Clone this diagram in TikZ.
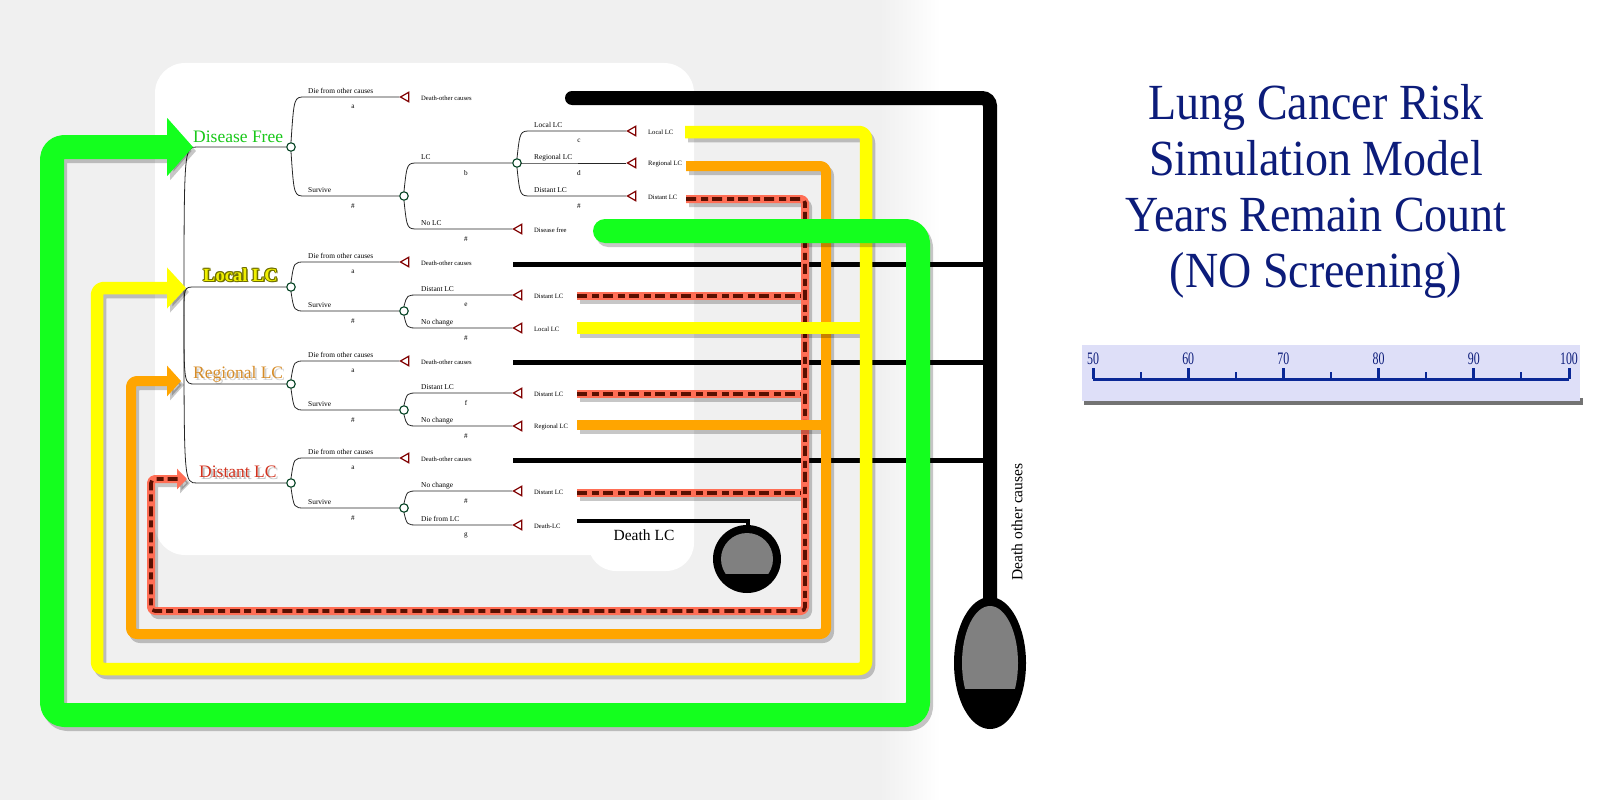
\documentclass[tikz,border=0pt]{standalone}
\usepackage{fontspec}
\setmainfont{Liberation Serif}
\usetikzlibrary{shapes.geometric,arrows.meta}
\definecolor{bggray}{RGB}{240,240,240}
\definecolor{lgreen}{RGB}{20,255,30}
\definecolor{lyellow}{RGB}{255,255,0}
\definecolor{lorange}{RGB}{255,165,0}
\definecolor{salmon}{RGB}{255,110,85}
\definecolor{rdark}{RGB}{90,15,0}
\definecolor{navy}{RGB}{12,28,122}
\definecolor{axisblue}{RGB}{10,40,150}
\definecolor{termred}{RGB}{128,0,0}
\definecolor{nodegreen}{RGB}{0,64,32}
\definecolor{dftext}{RGB}{25,200,25}
\definecolor{regtext}{RGB}{214,140,40}
\definecolor{disttext}{RGB}{210,50,30}
\definecolor{loctext}{RGB}{240,240,0}
\definecolor{locline}{RGB}{110,110,0}
\definecolor{scalebg}{RGB}{222,223,248}
\definecolor{dgray}{RGB}{128,128,128}

\newcommand{\tbranch}[7]{%
  \draw[branch] (#2) .. controls (#3+3,#4) .. (#3+14,#4) -- (#5);
  \node[blabel] (#1l) at (#3+17,#4-4) {#6};
  \node[plabel] (#1p) at (#3+62,#4+10) {#7};
}

\begin{document}
\begin{tikzpicture}[x=1pt,y=-1pt,
  chance/.style={circle, draw=nodegreen, fill=white, line width=1.1pt, minimum size=8.5pt, inner sep=0pt},
  term/.style={regular polygon, regular polygon sides=3, shape border rotate=90, draw=termred, fill=white, line width=1.2pt, minimum size=11pt, inner sep=0pt},
  branch/.style={draw=black!85, line width=0.8pt},
  blabel/.style={anchor=base west, inner sep=0pt, font=\fontsize{7.4}{8}\selectfont},
  plabel/.style={inner sep=0pt, font=\fontsize{7.2}{8}\selectfont},
  tlabel/.style={anchor=west, inner sep=0pt, font=\fontsize{6.6}{8}\selectfont},
  statelab/.style={anchor=base west, inner sep=0pt, font=\fontsize{17.5}{20}\selectfont},
  loclab/.style={anchor=base west, inner sep=0pt, font=\bfseries\fontsize{18.5}{20}\selectfont},
  shadowed/.style={draw=black, opacity=0.22, transform canvas={shift={(3pt,-4pt)}}},
  greenline/.style={draw=lgreen, line width=24pt, rounded corners=12pt, line join=round},
  yellowline/.style={draw=lyellow, line width=12.5pt, rounded corners=7pt, line join=round},
  orangeline/.style={draw=lorange, line width=10pt, rounded corners=6pt, line join=round},
  redline/.style={draw=salmon, line width=8pt, rounded corners=4pt, line join=round},
  redpat/.style={draw=rdark, line width=3.6pt, rounded corners=4pt, dash pattern=on 10pt off 5pt on 7pt off 4pt},
  blackthick/.style={draw=black, line width=14pt, rounded corners=8pt},
  blackthin/.style={draw=black, line width=5pt},
  axis/.style={draw=axisblue, line width=3pt},
  title/.style={anchor=base, inner sep=0pt, text=navy, font=\fontsize{46}{50}\selectfont},
  scalelab/.style={anchor=base, inner sep=0pt, text=navy, font=\fontsize{17.5}{18}\selectfont}
]
\useasboundingbox (0,0) rectangle (1600,800);
% background
\fill[white] (0,0) rectangle (1600,800);
\fill[bggray] (0,0) rectangle (881,800);
\shade[left color=bggray, right color=white] (880,0) rectangle (940,800);
% white panel
\fill[white, rounded corners=30pt] (155,63) rectangle (694,555);
\fill[white, rounded corners=28pt] (588,470) rectangle (694,571);

% ---------- decision tree ----------
\coordinate (root) at (184,315);
\node[chance] (df) at (291,147) {};
\node[chance] (lo) at (291,287) {};
\node[chance] (rg) at (291,384) {};
\node[chance] (di) at (291,483) {};
\draw[branch] (root) .. controls (184,147) .. (197,147) -- (df.west);
\draw[branch] (root) .. controls (184,287) .. (195,287) -- (lo.west);
\draw[branch] (root) .. controls (184,384) .. (195,384) -- (rg.west);
\draw[branch] (root) .. controls (184,483) .. (197,483) -- (di.west);

\node[statelab, text=dftext] (dftxt) at (193,142) {Disease Free};
\foreach \dx/\dy [count=\i] in {-1/0,1/0,0/-1,0/1,-0.8/-0.8,0.8/0.8,-0.8/0.8,0.8/-0.8,1.5/1.5}
  \node[loclab, text=locline] (locsh\i) at (203+\dx,281+\dy) {Local LC};
\node[loclab, text=loctext] (loctxt) at (203,281) {Local LC};
\node[statelab, text=black, opacity=0.18] (rgsh) at (195,380) {Regional LC};
\node[statelab, text=regtext] (rgtxt) at (193,378) {Regional LC};
\node[statelab, text=black, opacity=0.25] (disttsh) at (201,479) {Distant LC};
\node[statelab, text=disttext] (disttxt) at (199,477) {Distant LC};

% Disease free section
\node[term] (t1) at (406,97) {};
\node[chance] (n2) at (404,196) {};
\node[chance] (n3) at (517,163) {};
\node[term] (t2) at (633,131) {};
\node[term] (t3) at (633,163) {};
\node[term] (t4) at (633,196) {};
\node[term] (t5) at (519,229) {};
\tbranch{b1}{df.north}{291}{97}{t1.west}{Die from other causes}{a}
\tbranch{b2}{df.south}{291}{196}{n2.west}{Survive}{\#}
\tbranch{b3}{n2.north}{404}{163}{n3.west}{LC}{b}
\tbranch{b4}{n2.south}{404}{229}{t5.west}{No LC}{\#}
\tbranch{b5}{n3.north}{517}{131}{t2.west}{Local LC}{c}
\tbranch{b6}{n3.east}{517}{163}{t3.west}{Regional LC}{d}
\tbranch{b7}{n3.south}{517}{196}{t4.west}{Distant LC}{\#}
\node[tlabel] (l1) at (421,98) {Death-other causes};
\node[tlabel] (l2) at (648,132) {Local LC};
\node[tlabel] (l3) at (648,164) {Regional LC};
\node[tlabel] (l4) at (648,197) {Distant LC};
\node[tlabel] (l5) at (534,230) {Disease free};

% Local LC section
\node[term] (t6) at (406,262) {};
\node[chance] (n4) at (404,311) {};
\node[term] (t7) at (519,295) {};
\node[term] (t8) at (519,328) {};
\tbranch{b8}{lo.north}{291}{262}{t6.west}{Die from other causes}{a}
\tbranch{b9}{lo.south}{291}{311}{n4.west}{Survive}{\#}
\tbranch{b10}{n4.north}{404}{295}{t7.west}{Distant LC}{e}
\tbranch{b11}{n4.south}{404}{328}{t8.west}{No change}{\#}
\node[tlabel] (l6) at (421,263) {Death-other causes};
\node[tlabel] (l7) at (534,296) {Distant LC};
\node[tlabel] (l8) at (534,329) {Local LC};

% Regional LC section
\node[term] (t9) at (406,361) {};
\node[chance] (n5) at (404,410) {};
\node[term] (t10) at (519,393) {};
\node[term] (t11) at (519,426) {};
\tbranch{b12}{rg.north}{291}{361}{t9.west}{Die from other causes}{a}
\tbranch{b13}{rg.south}{291}{410}{n5.west}{Survive}{\#}
\tbranch{b14}{n5.north}{404}{393}{t10.west}{Distant LC}{f}
\tbranch{b15}{n5.south}{404}{426}{t11.west}{No change}{\#}
\node[tlabel] (l9) at (421,362) {Death-other causes};
\node[tlabel] (l10) at (534,394) {Distant LC};
\node[tlabel] (l11) at (534,427) {Regional LC};

% Distant LC section
\node[term] (t12) at (406,458) {};
\node[chance] (n6) at (404,508) {};
\node[term] (t13) at (519,491) {};
\node[term] (t14) at (519,525) {};
\tbranch{b16}{di.north}{291}{458}{t12.west}{Die from other causes}{a}
\tbranch{b17}{di.south}{291}{508}{n6.west}{Survive}{\#}
\tbranch{b18}{n6.north}{404}{491}{t13.west}{No change}{\#}
\tbranch{b19}{n6.south}{404}{525}{t14.west}{Die from LC}{g}
\node[tlabel] (l12) at (421,459) {Death-other causes};
\node[tlabel] (l13) at (534,492) {Distant LC};
\node[tlabel] (l14) at (534,526) {Death-LC};

% ---------- connector coordinates ----------
\coordinate (kS) at (572,98);   \coordinate (kE) at (990,600);
\coordinate (k1) at (513,264);  \coordinate (k2) at (513,362);  \coordinate (k3) at (513,460);
\coordinate (dS) at (577,521);  \coordinate (dE) at (748,528);
\coordinate (rS1) at (686,199); \coordinate (rS2) at (577,296);
\coordinate (rS3) at (577,394); \coordinate (rS4) at (577,493);
\coordinate (rE) at (187,479);  \coordinate (rB) at (178,479);
\coordinate (oS1) at (686,166); \coordinate (oS2) at (577,425); \coordinate (oE) at (181,381);
\coordinate (yS1) at (685,132); \coordinate (yS2) at (577,328); \coordinate (yE) at (186,288);
\coordinate (gS) at (605,231);  \coordinate (gE) at (193,147);

% black (death other causes / death LC)
\draw[blackthin] (k1) -- (990,264);
\draw[blackthin] (k2) -- (990,362);
\draw[blackthin] (k3) -- (990,460);
\draw[blackthick, line cap=round] (kS) -- (990,98) -- (kE);
\draw[blackthin, line width=4pt] (dS) -- (748,521) -- (dE);
\node[circle, fill=black, minimum size=68pt, inner sep=0pt] (dlc) at (747,559) {};
\begin{scope}
  \clip (700,500) rectangle (800,573);
  \fill[dgray] (dlc.center) circle (26pt);
\end{scope}
\node[ellipse, fill=black, minimum width=72pt, minimum height=132pt, inner sep=0pt] (doc) at (990,663) {};
\begin{scope}
  \clip (940,590) rectangle (1040,688);
  \fill[dgray] (doc.center) ellipse [x radius=28pt, y radius=57pt];
\end{scope}
\node[inner sep=0pt, rotate=90, font=\fontsize{15.5}{17}\selectfont] (doctxt) at (1017,522) {Death other causes};
\node[inner sep=0pt, font=\fontsize{15.5}{17}\selectfont] (dlctxt) at (644,535) {Death LC};

% red (distant LC) loop
\draw[redline, shadowed, -{Triangle[length=10pt,width=20pt]}] (rS1) -- (805,199) -- (805,611) -- (151,611) -- (151,479) -- (rE);
\draw[redline, shadowed] (rS2) -- (805,296);
\draw[redline, shadowed] (rS3) -- (805,394);
\draw[redline, shadowed] (rS4) -- (805,493);
\draw[redline, -{Triangle[length=10pt,width=20pt]}] (rS1) -- (805,199) -- (805,611) -- (151,611) -- (151,479) -- (rE);
\draw[redline] (rS2) -- (805,296);
\draw[redline] (rS3) -- (805,394);
\draw[redline] (rS4) -- (805,493);
\draw[redpat] (rS1) -- (805,199) -- (805,611) -- (151,611) -- (151,479) -- (rB);
\draw[redpat] (rS2) -- (801,296);
\draw[redpat] (rS3) -- (801,394);
\draw[redpat] (rS4) -- (801,493);

% orange (regional LC) loop
\draw[orangeline, shadowed, -{Triangle[length=14pt,width=30pt]}] (oS1) -- (826,166) -- (826,634) -- (131,634) -- (131,381) -- (oE);
\draw[orangeline, shadowed] (oS2) -- (826,425);
\draw[orangeline, -{Triangle[length=14pt,width=30pt]}] (oS1) -- (826,166) -- (826,634) -- (131,634) -- (131,381) -- (oE);
\draw[orangeline] (oS2) -- (826,425);

% yellow (local LC) loop
\draw[yellowline, shadowed, -{Triangle[length=19pt,width=40pt]}] (yS1) -- (866,132) -- (866,669) -- (97,669) -- (97,288) -- (yE);
\draw[yellowline, shadowed] (yS2) -- (866,328);
\draw[yellowline, -{Triangle[length=19pt,width=40pt]}] (yS1) -- (866,132) -- (866,669) -- (97,669) -- (97,288) -- (yE);
\draw[yellowline] (yS2) -- (866,328);

% green (disease free) loop
\draw[greenline, shadowed, line cap=round, -{Triangle[length=26pt,width=57pt]}] (gS) -- (918,231) -- (918,715) -- (52,715) -- (52,147) -- (gE);
\draw[greenline, line cap=round, -{Triangle[length=26pt,width=57pt]}] (gS) -- (918,231) -- (918,715) -- (52,715) -- (52,147) -- (gE);

% ---------- title ----------
\node[title] (ti1) at (1316,119) {\scalebox{1}[1.1]{Lung Cancer Risk}};
\node[title] (ti2) at (1316,175) {\scalebox{1}[1.1]{Simulation Model}};
\node[title] (ti3) at (1316,231) {\scalebox{1}[1.1]{Years Remain Count}};
\node[title] (ti4) at (1316,287) {\scalebox{1}[1.1]{(NO Screening)}};

% ---------- scale ----------
\fill[black!55] (1084,398) rectangle (1583,405);
\fill[scalebg] (1082,345) rectangle (1580,401);
\draw[axis] (1093,379) -- (1569,379);
\foreach \v in {50,60,...,100} {
  \pgfmathsetmacro\xx{1093+9.52*(\v-50)}
  \draw[axis] (\xx,368) -- (\xx,379);
  \node[scalelab] (s\v) at (\xx,364) {\scalebox{0.68}[1]{\v}};
}
\foreach \v in {55,65,...,95} {
  \pgfmathsetmacro\xx{1093+9.52*(\v-50)}
  \draw[axis, line width=2pt] (\xx,372) -- (\xx,379);
}
\end{tikzpicture}
\end{document}
